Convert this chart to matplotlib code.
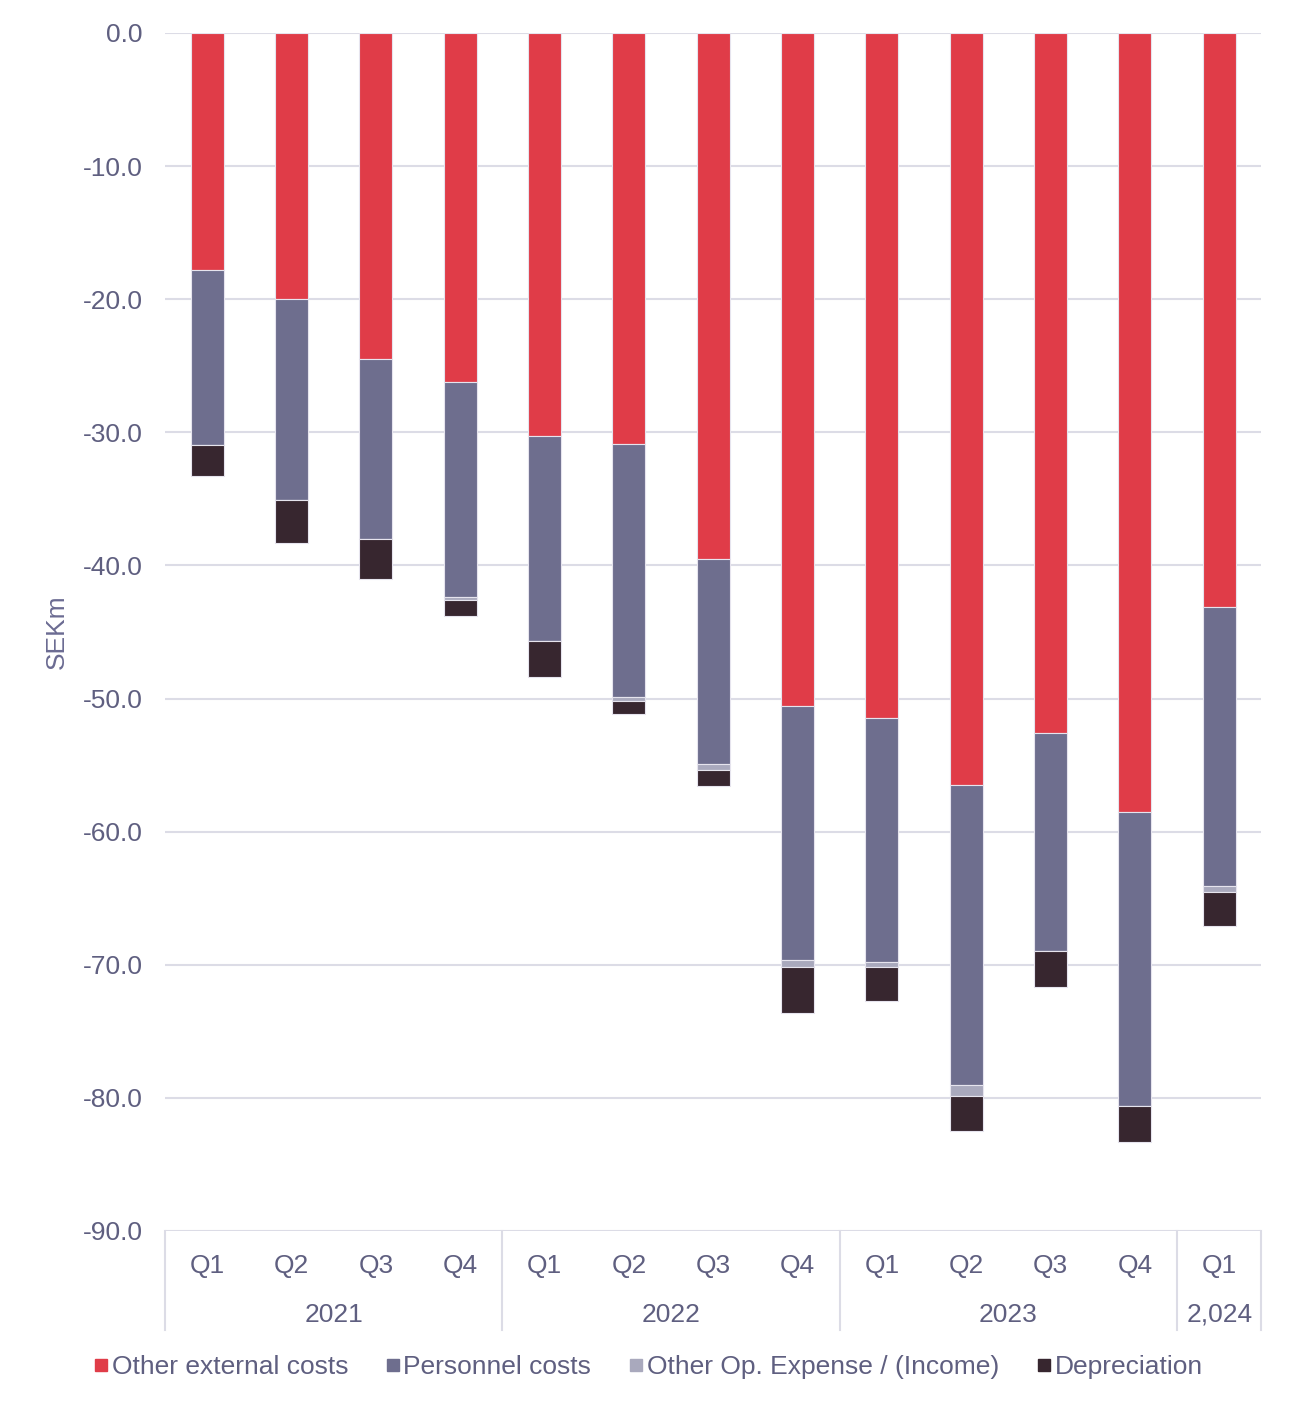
import numpy as np
import matplotlib
matplotlib.use("Agg")
import matplotlib.pyplot as plt
from matplotlib.lines import Line2D
from matplotlib.transforms import blended_transform_factory

plt.rcParams["font.family"] = ["Liberation Sans", "DejaVu Sans"]

# quarters and their years (year labels as shown in the source)
quarters = ["Q1", "Q2", "Q3", "Q4", "Q1", "Q2", "Q3", "Q4",
            "Q1", "Q2", "Q3", "Q4", "Q1"]
years = ["2021", "2022", "2023", "2,024"]
year_sizes = [4, 4, 4, 1]

# SEKm, costs shown as negatives
other_external = [-17.8, -20.0, -24.5, -26.2, -30.3, -30.9, -39.5,
                  -50.55, -51.5, -56.5, -52.6, -58.5, -43.1]
personnel = [-13.15, -15.1, -13.5, -16.2, -15.35, -19.0, -15.4,
             -19.1, -18.3, -22.5, -16.4, -22.15, -21.0]
other_op = [0.0, 0.0, 0.0, -0.2, 0.0, -0.3, -0.5,
            -0.55, -0.35, -0.85, 0.0, 0.0, -0.4]
depreciation = [-2.35, -3.2, -3.0, -1.2, -2.7, -1.0, -1.2,
                -3.4, -2.55, -2.65, -2.7, -2.7, -2.6]

series = [
    ("Other external costs", other_external, "#e03c48"),
    ("Personnel costs", personnel, "#6e6e8e"),
    ("Other Op. Expense / (Income)", other_op, "#a9a9bd"),
    ("Depreciation", depreciation, "#37262f"),
]

text_color = "#5f5f80"
grid_color = "#dcdce6"
fs = 19

fig = plt.figure(figsize=(12.93, 14.10), dpi=100)
ax = fig.add_axes([0.1276, 0.127, 0.848, 0.8496])

x = np.arange(len(quarters))
bottom = np.zeros(len(quarters))
for name, vals, color in series:
    vals = np.array(vals)
    ax.bar(x, vals, bottom=bottom, width=0.39, color=color,
           edgecolor="#e6e4ee", linewidth=0.8, zorder=3)
    bottom = bottom + vals

ax.set_xlim(-0.5, len(quarters) - 0.5)
ax.set_ylim(-90, 0)
yticks = np.arange(0, -91, -10)
ax.set_yticks(yticks)
ax.set_yticklabels([f"{v:.1f}" for v in yticks], fontsize=fs, color=text_color)
ax.tick_params(axis="y", length=0, pad=16)
ax.set_xticks([])
ax.grid(axis="y", color=grid_color, linewidth=1.5, zorder=0)
for s in ax.spines.values():
    s.set_visible(False)

ax.set_ylabel("SEKm", fontsize=fs, color="#6b6b92", labelpad=10)

# two-level category axis below the plot
tr = blended_transform_factory(ax.transData, ax.transAxes)
for i, q in enumerate(quarters):
    ax.text(i, -0.029, q, transform=tr, ha="center", va="center",
            fontsize=fs, color=text_color)
start = 0
edges = [-0.5]
for yr, n in zip(years, year_sizes):
    ax.text(start + (n - 1) / 2, -0.070, yr, transform=tr, ha="center",
            va="center", fontsize=fs, color=text_color)
    start += n
    edges.append(start - 0.5)
for e in edges:
    ax.plot([e, e], [0, -0.083], transform=tr, color=grid_color,
            linewidth=1.5, clip_on=False)

handles = [Line2D([], [], marker="s", linestyle="none", markersize=8,
                  markerfacecolor=c, markeredgecolor=c) for _, _, c in series]
fig.legend(handles, [n for n, _, _ in series], loc="center",
           bbox_to_anchor=(0.5, 0.0305), ncol=4, frameon=False,
           fontsize=fs, labelcolor=text_color, handletextpad=0.0,
           columnspacing=1.3, handlelength=0.8)

fig.savefig("out.png", dpi=100)
